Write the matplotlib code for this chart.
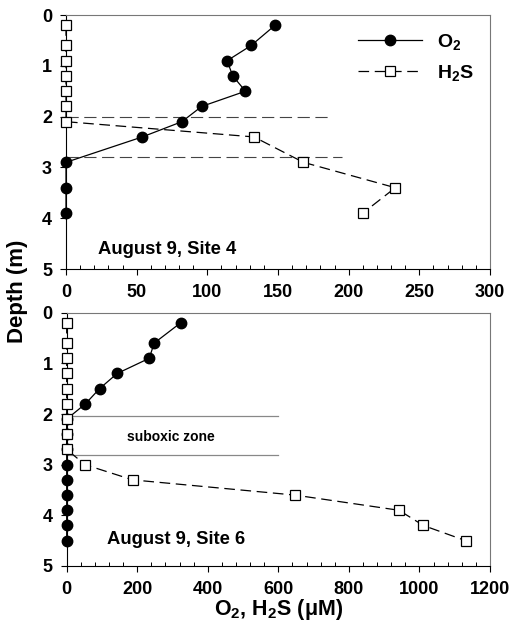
import matplotlib
matplotlib.use("Agg")
import matplotlib.pyplot as plt
from matplotlib.ticker import MultipleLocator

plt.rcParams['font.family'] = ['Liberation Sans', 'DejaVu Sans']
plt.rcParams['font.weight'] = 'bold'
plt.rcParams['mathtext.fontset'] = 'custom'
plt.rcParams['mathtext.rm'] = 'Liberation Sans:bold'
plt.rcParams['mathtext.it'] = 'Liberation Sans:bold'
plt.rcParams['mathtext.bf'] = 'Liberation Sans:bold'

# Site 4 data
s4_o2_depth = [0.2, 0.6, 0.9, 1.2, 1.5, 1.8, 2.1, 2.4, 2.9, 3.4, 3.9]
s4_o2 = [148, 131, 114, 118, 127, 96, 82, 54, 0, 0, 0]
s4_h2s_depth = [0.2, 0.6, 0.9, 1.2, 1.5, 1.8, 2.1, 2.4, 2.9, 3.4, 3.9]
s4_h2s = [0, 0, 0, 0, 0, 0, 0, 133, 168, 233, 210]
s4_bounds = [2.0, 2.8]
s4_bound_ends = [188, 195]

# Site 6 data
s6_o2_depth = [0.2, 0.6, 0.9, 1.2, 1.5, 1.8, 2.1, 2.4, 2.7, 3.0, 3.3, 3.6, 3.9, 4.2, 4.5]
s6_o2 = [323, 248, 234, 143, 93, 53, 0, 0, 0, 0, 0, 0, 0, 0, 0]
s6_h2s_depth = [0.2, 0.6, 0.9, 1.2, 1.5, 1.8, 2.1, 2.4, 2.7, 3.0, 3.3, 3.6, 3.9, 4.2, 4.5]
s6_h2s = [0, 0, 0, 0, 0, 0, 0, 0, 0, 52, 187, 647, 942, 1011, 1131]
s6_bounds = [2.03, 2.8]
s6_bound_end = 600

fig = plt.figure(figsize=(5.1, 6.3), dpi=100)
ax1 = fig.add_axes([66/510, 1-269/630, 424/510, 254/630])
ax2 = fig.add_axes([66.7/510, 1-566/630, 423.3/510, 253.3/630])

mk_o2 = dict(color='black', lw=0.9, marker='o', markersize=7.5,
             markerfacecolor='black', markeredgecolor='black', clip_on=False)
mk_h2s = dict(color='black', lw=0.9, marker='s', markersize=6.8,
              markerfacecolor='white', markeredgecolor='black',
              markeredgewidth=0.9, dashes=(8.5, 4.5), clip_on=False)

# Top panel
for d, xe in zip(s4_bounds, s4_bound_ends):
    ax1.plot([0, xe], [d, d], color='#444444', lw=0.8, dashes=(11, 5), zorder=1)
l1, = ax1.plot(s4_o2, s4_o2_depth, zorder=3, **mk_o2)
l2, = ax1.plot(s4_h2s, s4_h2s_depth, zorder=4, **mk_h2s)
ax1.set_xlim(0, 300)
ax1.set_ylim(5, 0)
ax1.xaxis.set_major_locator(MultipleLocator(50))
ax1.xaxis.set_minor_locator(MultipleLocator(10))
ax1.text(0.075, 0.075, 'August 9, Site 4', transform=ax1.transAxes,
         fontsize=13.3, fontweight='bold', va='center', ha='left')
ax1.legend([l1, l2], [r'O$_2$', r'H$_2$S'], loc='upper left',
           bbox_to_anchor=(0.688, 0.935), frameon=False, borderpad=0,
           borderaxespad=0, handlelength=3.3, handletextpad=0.8,
           labelspacing=0.6, prop={'size': 14, 'weight': 'bold'})

# Bottom panel
for d in s6_bounds:
    ax2.plot([0, s6_bound_end], [d, d], color='#888888', lw=0.9, zorder=1)
ax2.plot(s6_o2, s6_o2_depth, zorder=3, **mk_o2)
ax2.plot(s6_h2s, s6_h2s_depth, zorder=4, **mk_h2s)
ax2.set_xlim(0, 1200)
ax2.set_ylim(5, 0)
ax2.xaxis.set_major_locator(MultipleLocator(200))
ax2.xaxis.set_minor_locator(MultipleLocator(40))
ax2.text(296, 2.46, 'suboxic zone', fontsize=10, fontweight='bold',
         ha='center', va='center')
ax2.text(0.095, 0.103, 'August 9, Site 6', transform=ax2.transAxes,
         fontsize=13.3, fontweight='bold', va='center', ha='left')

for ax in (ax1, ax2):
    ax.yaxis.set_major_locator(MultipleLocator(1))
    ax.tick_params(axis='x', which='major', direction='out', length=4,
                   width=0.8, labelsize=13, pad=7)
    ax.tick_params(axis='x', which='minor', direction='in', length=3, width=0.7)
    ax.tick_params(axis='y', which='major', direction='out', length=4,
                   width=0.8, labelsize=13, pad=6)
    for lab in ax.get_xticklabels() + ax.get_yticklabels():
        lab.set_fontweight('bold')
    ax.spines['left'].set_color('black')
    ax.spines['bottom'].set_color('black')
    ax.spines['top'].set_color('#777777')
    ax.spines['right'].set_color('#777777')
    for s in ax.spines.values():
        s.set_linewidth(0.8)

fig.text(18/510, 1-291/630, 'Depth (m)', rotation=90, fontsize=16,
         fontweight='bold', ha='center', va='center')
fig.text(279/510, 1-610/630, 'O$_2$, H$_2$S (\u03bcM)',
         fontsize=15.5, fontweight='bold', ha='center', va='center')

fig.savefig('out.png', dpi=100)
